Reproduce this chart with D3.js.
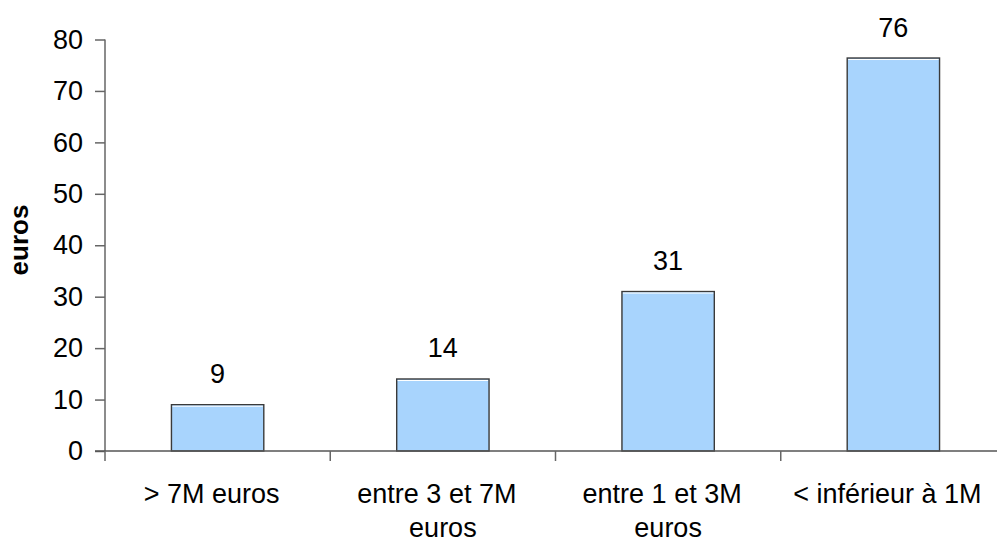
<!DOCTYPE html>
<html>
<head>
<meta charset="utf-8">
<script src="https://cdn.jsdelivr.net/npm/d3@7"></script>
<style>
  body { margin: 0; background: #fff; }
  text { font-family: "Liberation Sans", Arial, sans-serif; }
</style>
</head>
<body>
<svg id="chart" width="997" height="543"></svg>
<script>
// data
var categories = [["> 7M euros"], ["entre 3 et 7M", "euros"], ["entre 1 et 3M", "euros"], ["< inférieur à 1M"]];
var values = [9, 14, 31, 76.4];
var yTicks = [0, 10, 20, 30, 40, 50, 60, 70, 80];
var yTitle = "euros";

var margin = {top: 39.5, left: 105, bottom: 92};
var width = 997, height = 543;
var plotH = height - margin.top - margin.bottom;
var fs = "27px";

var svg = d3.select("#chart");

var xScale = d3.scaleBand()
    .domain(d3.range(categories.length))
    .range([margin.left, margin.left + 901])
    .paddingInner(0)
    .paddingOuter(0);

var yScale = d3.scaleLinear()
    .domain([0, 80])
    .range([margin.top + plotH, margin.top]);

var barW = xScale.bandwidth() * 0.41;

// bars
svg.selectAll(".bar")
    .data(values)
    .enter().append("rect")
    .attr("class", "bar")
    .attr("x", function(d, i) { return xScale(i) + xScale.bandwidth() / 2 - barW / 2; })
    .attr("y", function(d) { return yScale(d); })
    .attr("width", barW)
    .attr("height", function(d) { return yScale(0) - yScale(d); })
    .attr("fill", "#a8d4fd")
    .attr("stroke", "#3a3a3a")
    .attr("stroke-width", 1.4);

// little white highlight under the top edge
svg.selectAll(".hl")
    .data(values)
    .enter().append("line")
    .attr("x1", function(d, i) { return xScale(i) + xScale.bandwidth() / 2 - barW / 2 + 1; })
    .attr("x2", function(d, i) { return xScale(i) + xScale.bandwidth() / 2 + barW / 2 - 1; })
    .attr("y1", function(d) { return yScale(d) + 1.5; })
    .attr("y2", function(d) { return yScale(d) + 1.5; })
    .attr("stroke", "#ffffff")
    .attr("stroke-width", 1);

// value labels
svg.selectAll(".val")
    .data(values)
    .enter().append("text")
    .attr("x", function(d, i) { return xScale(i) + xScale.bandwidth() / 2; })
    .attr("y", function(d) { return yScale(d) - 21.5; })
    .attr("text-anchor", "middle")
    .style("font-size", fs)
    .attr("fill", "#000")
    .text(function(d) { return d3.format(".0f")(d); });

// y axis
var yAxis = svg.append("g")
    .attr("transform", "translate(" + margin.left + ",0)")
    .call(d3.axisLeft(yScale).tickValues(yTicks).tickSize(10).tickPadding(12));
yAxis.selectAll("path, line").attr("stroke", "#666").attr("stroke-width", 1.5);
yAxis.select(".domain").attr("d", "M0," + yScale(80) + "V" + yScale(0));
yAxis.selectAll("text").style("font-size", fs).attr("fill", "#000");

// x axis
var xAxis = svg.append("g")
    .attr("transform", "translate(0," + yScale(0) + ")");
xAxis.append("line")
    .attr("x1", margin.left - 10).attr("x2", margin.left + 901)
    .attr("stroke", "#555").attr("stroke-width", 1.6);
xAxis.selectAll(".tk")
    .data(d3.range(categories.length + 1))
    .enter().append("line")
    .attr("x1", function(i) { return margin.left + i * xScale.step(); })
    .attr("x2", function(i) { return margin.left + i * xScale.step(); })
    .attr("y1", 0).attr("y2", 10)
    .attr("stroke", "#666").attr("stroke-width", 1.5);

var labels = xAxis.selectAll(".lab")
    .data(categories)
    .enter().append("text")
    .attr("text-anchor", "middle")
    .style("font-size", fs)
    .attr("fill", "#000");
labels.selectAll("tspan")
    .data(function(d, i) { return d.map(function(s, j) { return {s: s, i: i, j: j}; }); })
    .enter().append("tspan")
    // first lines sit a bit left of the bar centre in the original
    .attr("x", function(d) { return xScale(d.i) + xScale.bandwidth() / 2 - (d.j === 0 ? 6 : 0); })
    .attr("y", function(d) { return 51.5 + d.j * 34.5; })
    .text(function(d) { return d.s; });

// y title
svg.append("text")
    .attr("transform", "translate(28,240) rotate(-90)")
    .attr("text-anchor", "middle")
    .style("font-size", "26px")
    .style("font-weight", "bold")
    .text(yTitle);
</script>
</body>
</html>
